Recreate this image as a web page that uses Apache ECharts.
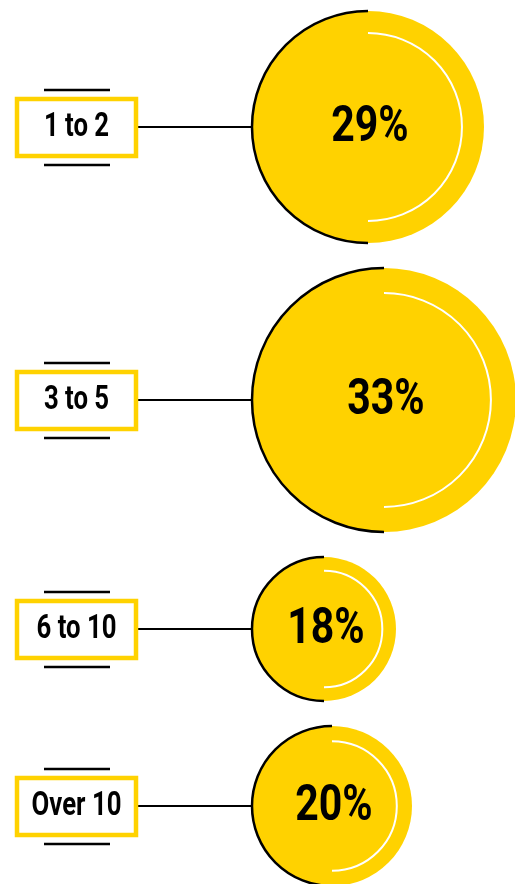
<!DOCTYPE html>
<html>
<head>
<meta charset="utf-8">
<script src="https://cdn.jsdelivr.net/npm/echarts@6/dist/echarts.min.js"></script>
<style>
	html, body { margin: 0; padding: 0; background: #fff; }
	#chart { width: 515px; height: 884px; }
</style>
</head>
<body>
<div id="chart"></div>
<script>
var categories = ['1 to 2', '3 to 5', '6 to 10', 'Over 10'];
var shares = [29, 33, 18, 20];

var YELLOW = '#FFD200';
// no condensed face installed, so squeeze Roboto horizontally
var FONT = "Roboto, 'Liberation Sans', sans-serif";
var SQUEEZE = 0.78;

// stack the circles top to bottom, a small gap between them (in value units)
var topPad = 2.75, gap = 6.25;
var rows = [];
var cursor = topPad;
for(var i = 0; i < shares.length; i++){
	cursor += shares[i];
	rows.push([shares[i], cursor, i]);
	cursor += shares[i] + gap;
}

function renderRow(params, api){
	var value = api.value(0), idx = api.value(2);
	var center = api.coord([value, api.value(1)]);
	var edge = api.coord([0, api.value(1)]);
	var r = api.size([value, 0])[0];
	var cx = center[0], cy = center[1];
	return {
		type: 'group',
		children: [
			{type: 'line', shape: {x1: 138, y1: cy, x2: edge[0], y2: cy}, style: {stroke: '#000', lineWidth: 2}},
			{type: 'line', shape: {x1: 44, y1: cy - 37, x2: 110, y2: cy - 37}, style: {stroke: '#000', lineWidth: 2.5}},
			{type: 'line', shape: {x1: 44, y1: cy + 38, x2: 110, y2: cy + 38}, style: {stroke: '#000', lineWidth: 2.5}},
			{type: 'rect', shape: {x: 17, y: cy - 28, width: 119, height: 57}, style: {fill: '#fff', stroke: YELLOW, lineWidth: 4.5}},
			{type: 'text', x: 76.5, y: cy + 1, scaleX: SQUEEZE, style: {text: categories[idx], fill: '#000', font: 'bold 33px ' + FONT, align: 'center', verticalAlign: 'middle'}},
			{type: 'circle', shape: {cx: cx, cy: cy, r: r}, style: {fill: YELLOW}},
			{type: 'arc', shape: {cx: cx, cy: cy, r: r, startAngle: Math.PI / 2, endAngle: Math.PI * 3 / 2, clockwise: true}, style: {stroke: '#000', lineWidth: 2.5, fill: null}},
			{type: 'arc', shape: {cx: cx, cy: cy, r: r * 0.81, startAngle: -Math.PI / 2, endAngle: Math.PI / 2, clockwise: true}, style: {stroke: '#fff', lineWidth: 2, fill: null}},
			{type: 'text', x: cx + 2, y: cy + 1, scaleX: 0.82, style: {text: value + '%', fill: '#000', font: 'bold 50px ' + FONT, align: 'center', verticalAlign: 'middle'}}
		]
	};
}

var chart = echarts.init(document.getElementById('chart'));
chart.setOption({
	animation: false,
	grid: {left: 252, top: 0, right: 0, bottom: 0},
	xAxis: {type: 'value', min: 0, max: 65.75, show: false},
	yAxis: {type: 'value', min: 0, max: 221, inverse: true, show: false},
	series: [{
		type: 'custom',
		clip: false,
		renderItem: renderRow,
		encode: {x: 0, y: 1},
		data: rows
	}]
});
</script>
</body>
</html>
